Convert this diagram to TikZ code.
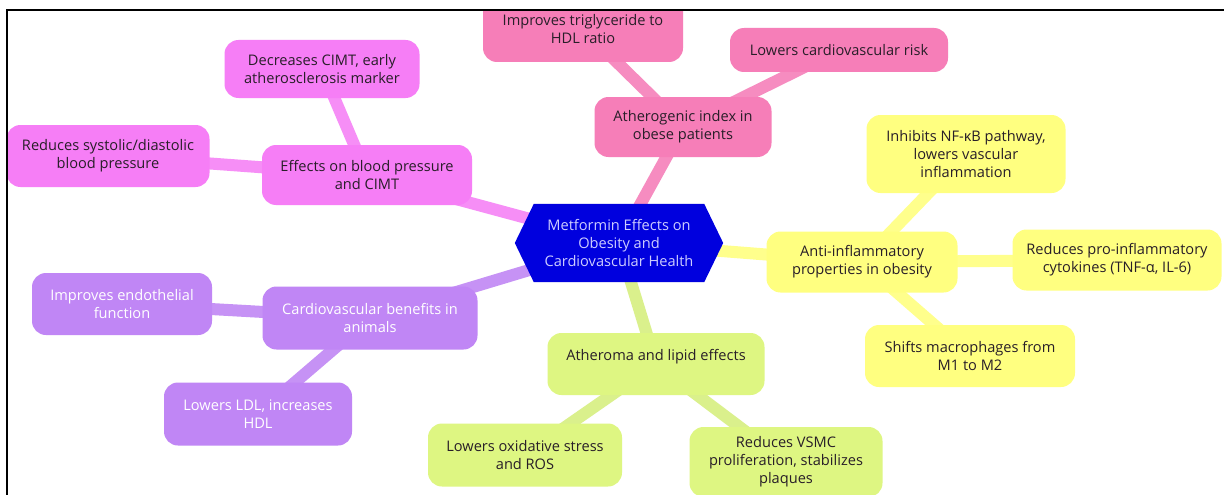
\documentclass[tikz,border=0pt]{standalone}
\usepackage{fontspec}
\setmainfont{Open Sans}
\usetikzlibrary{backgrounds}
\definecolor{pinkbox}{RGB}{246,126,184}
\definecolor{pinkline}{RGB}{246,140,192}
\definecolor{magbox}{RGB}{246,126,246}
\definecolor{magline}{RGB}{246,142,246}
\definecolor{purbox}{RGB}{192,134,245}
\definecolor{purline}{RGB}{198,146,245}
\definecolor{grnbox}{RGB}{222,246,130}
\definecolor{grnline}{RGB}{218,240,140}
\definecolor{yelbox}{RGB}{255,255,128}
\definecolor{yelline}{RGB}{255,255,140}
\definecolor{hubblue}{RGB}{0,0,222}
\definecolor{hubtext}{RGB}{205,205,255}
\definecolor{darktext}{RGB}{40,30,40}
\tikzset{
  mbox/.style={rounded corners=14pt, inner sep=0pt, align=center, text=darktext,
    font=\fontsize{14.6}{18}\selectfont},
  conn/.style={line width=12pt},
}
\begin{document}
\begin{tikzpicture}[x=1pt,y=1pt]
\useasboundingbox (0,0) rectangle (1224,-495);
% hub
\node[minimum width=208pt, minimum height=78pt, inner sep=0pt, align=center, text=hubtext,
  font=\fontsize{14.6}{18}\selectfont] (hub) at (619,-243)
  {Metformin Effects on\\Obesity and\\Cardiovascular Health};
% pink branch
\node[mbox, fill=pinkbox, minimum width=177pt, minimum height=60pt] (ath) at (683,-127) {Atherogenic index in\\obese patients};
\node[mbox, fill=pinkbox, minimum width=200pt, minimum height=66pt] (tri) at (583,-29) {Improves triglyceride to\\HDL ratio};
\node[mbox, fill=pinkbox, minimum width=218pt, minimum height=44pt] (cvr) at (839,-50) {Lowers cardiovascular risk};
% magenta branch
\node[mbox, fill=magbox, minimum width=210pt, minimum height=60pt] (bp) at (367,-175) {Effects on blood pressure\\and CIMT};
\node[mbox, fill=magbox, minimum width=195pt, minimum height=58pt] (cimt) at (322,-69) {Decreases CIMT, early\\atherosclerosis marker};
\node[mbox, fill=magbox, minimum width=203pt, minimum height=62pt] (sys) at (108,-156) {Reduces systolic/diastolic\\blood pressure};
% purple branch
\node[mbox, fill=purbox, text=white, minimum width=215pt, minimum height=63pt] (anim) at (370,-318) {Cardiovascular benefits in\\animals};
\node[mbox, fill=purbox, text=white, minimum width=180pt, minimum height=62pt] (endo) at (122,-304) {Improves endothelial\\function};
\node[mbox, fill=purbox, text=white, minimum width=188pt, minimum height=63pt] (ldl) at (258,-414) {Lowers LDL, increases\\HDL};
% green branch
\node[mbox, fill=grnbox, minimum width=217pt, minimum height=62pt] (atm) at (656,-364) {Atheroma and lipid effects\\\mbox{}};
\node[mbox, fill=grnbox, minimum width=194pt, minimum height=63pt] (oxi) at (525,-455) {Lowers oxidative stress\\and ROS};
\node[mbox, fill=grnbox, minimum width=193pt, minimum height=70pt] (vsmc) at (786,-462) {Reduces VSMC\\proliferation, stabilizes\\plaques};
% yellow branch
\node[mbox, fill=yelbox, minimum width=191pt, minimum height=61pt] (anti) at (862,-262) {Anti-inflammatory\\properties in obesity};
\node[mbox, fill=yelbox, minimum width=199pt, minimum height=78pt] (nfkb) at (966,-154) {Inhibits NF-κB pathway,\\lowers vascular\\inflammation};
\node[mbox, fill=yelbox, minimum width=209pt, minimum height=61pt] (cyto) at (1117,-260) {Reduces pro-inflammatory\\cytokines (TNF-α, IL-6)};
\node[mbox, fill=yelbox, minimum width=210pt, minimum height=62pt] (m1) at (970,-356) {Shifts macrophages from\\M1 to M2};
\begin{pgfonlayer}{background}
  \fill[white] (0,0) rectangle (1224,-495);
  \draw[conn, pinkline] (hub.center) -- (ath.center);
  \draw[conn, pinkline] (ath.center) -- (tri.center);
  \draw[conn, pinkline] (ath.center) -- (cvr.center);
  \draw[conn, magline] (hub.center) -- (bp.center);
  \draw[conn, magline] (bp.center) -- (cimt.center);
  \draw[conn, magline] (bp.center) -- (sys.center);
  \draw[conn, purline] (hub.center) -- (anim.center);
  \draw[conn, purline] (anim.center) -- (endo.center);
  \draw[conn, purline] (anim.center) -- (ldl.center);
  \draw[conn, grnline] (hub.center) -- (atm.center);
  \draw[conn, grnline] (atm.center) -- (oxi.center);
  \draw[conn, grnline] (atm.center) -- (vsmc.center);
  \draw[conn, yelline] (hub.center) -- (anti.center);
  \draw[conn, yelline] (anti.center) -- (nfkb.center);
  \draw[conn, yelline] (anti.center) -- (cyto.center);
  \draw[conn, yelline] (anti.center) -- (m1.center);
  \fill[hubblue] (hub.west) -- ([xshift=19pt]hub.north west) -- ([xshift=-19pt]hub.north east)
    -- (hub.east) -- ([xshift=-19pt]hub.south east) -- ([xshift=19pt]hub.south west) -- cycle;
\end{pgfonlayer}
% frame and outside mask
\fill[white] (0,0) rectangle (1224,-9);
\fill[white] (0,0) rectangle (6,-495);
\draw[line width=2pt, black] (7,-495) -- (7,-10) -- (1224,-10);
\end{tikzpicture}
\end{document}
